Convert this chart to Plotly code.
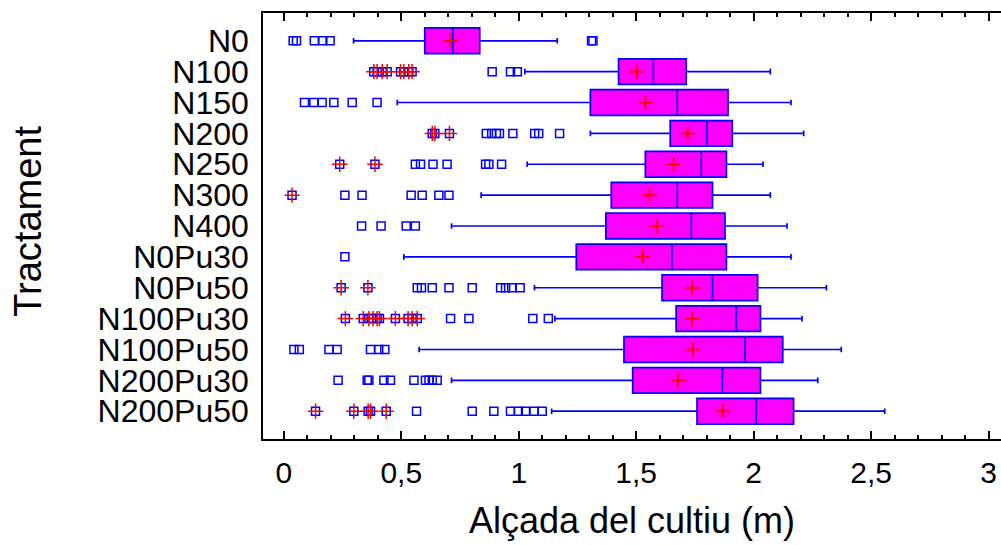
import plotly.graph_objects as go

# Treatments (top to bottom)
categories = ["N0", "N100", "N150", "N200", "N250", "N300", "N400",
              "N0Pu30", "N0Pu50", "N100Pu30", "N100Pu50", "N200Pu30", "N200Pu50"]

# Box statistics of crop height (m)
q1 = [0.600, 1.425, 1.305, 1.645, 1.539, 1.394, 1.371, 1.245, 1.610, 1.670, 1.448, 1.485, 1.759]
median = [0.719, 1.573, 1.675, 1.801, 1.777, 1.675, 1.735, 1.652, 1.825, 1.926, 1.963, 1.867, 2.011]
q3 = [0.834, 1.713, 1.891, 1.909, 1.884, 1.825, 1.878, 1.884, 2.017, 2.029, 2.124, 2.029, 2.170]
whisker_lo = [0.297, 1.026, 0.483, 1.305, 1.036, 0.840, 0.714, 0.511, 1.067, 1.154, 0.576, 0.714, 1.140]
whisker_hi = [1.164, 2.071, 2.159, 2.213, 2.040, 2.071, 2.142, 2.159, 2.310, 2.206, 2.373, 2.273, 2.558]
means = [0.708, 1.503, 1.540, 1.719, 1.659, 1.557, 1.589, 1.527, 1.738, 1.738, 1.742, 1.678, 1.868]

# Outlying observations per treatment
out_N0 = [0.040, 0.054, 0.130, 0.166, 0.197, 1.310, 1.316]
out_N100 = [0.383, 0.397, 0.419, 0.440, 0.497, 0.511, 0.532, 0.546, 0.887, 0.965, 0.994]
out_N150 = [0.088, 0.128, 0.163, 0.213, 0.291, 0.397]
out_N200 = [0.632, 0.643, 0.705, 0.862, 0.885, 0.905, 0.918, 0.975, 1.068, 1.085, 1.174]
out_N250 = [0.238, 0.388, 0.560, 0.582, 0.635, 0.695, 0.859, 0.873, 0.927]
out_N300 = [0.035, 0.260, 0.333, 0.542, 0.589, 0.660, 0.703]
out_N400 = [0.331, 0.414, 0.521, 0.560]
out_N0Pu30 = [0.260]
out_N0Pu50 = [0.244, 0.358, 0.568, 0.586, 0.632, 0.703, 0.802, 0.923, 0.944, 0.970, 1.006]
out_N100Pu30 = [0.262, 0.338, 0.362, 0.380, 0.397, 0.407, 0.475, 0.529, 0.546, 0.568,
                0.710, 0.788, 1.060, 1.126]
out_N100Pu50 = [0.043, 0.066, 0.192, 0.227, 0.369, 0.404, 0.430]
out_N200Pu30 = [0.231, 0.355, 0.362, 0.426, 0.454, 0.554, 0.603, 0.618, 0.632, 0.653]
out_N200Pu50 = [0.135, 0.298, 0.359, 0.369, 0.436, 0.565, 0.802, 0.894, 0.965, 0.998,
                1.029, 1.065, 1.100]

outliers = [out_N0, out_N100, out_N150, out_N200, out_N250, out_N300, out_N400,
            out_N0Pu30, out_N0Pu50, out_N100Pu30, out_N100Pu50, out_N200Pu30, out_N200Pu50]

x_ticks = [0, 0.5, 1, 1.5, 2, 2.5, 3]
x_tick_text = ["0", "0,5", "1", "1,5", "2", "2,5", "3"]

BLUE = "#0000FF"
MAGENTA = "#FF00FF"
RED = "#FF0000"
FONT = "Liberation Sans, Arial, sans-serif"

# Split outliers: far outside points (beyond 3 IQR) get an extra red cross
ox, oy, fx, fy = [], [], [], []
for cat, vals, a, b in zip(categories, outliers, q1, q3):
    iqr = b - a
    for v in vals:
        ox.append(v)
        oy.append(cat)
        if v < a - 3 * iqr or v > b + 3 * iqr:
            fx.append(v)
            fy.append(cat)

fig = go.Figure()

fig.add_trace(go.Box(
    y=categories, q1=q1, median=median, q3=q3,
    lowerfence=whisker_lo, upperfence=whisker_hi,
    orientation="h", boxpoints=False, width=0.83, whiskerwidth=0.22,
    fillcolor=MAGENTA, line=dict(color=BLUE, width=1.7),
    hoverinfo="skip",
))

fig.add_trace(go.Scatter(
    x=ox, y=oy, mode="markers",
    marker=dict(symbol="square-open", size=8, color=BLUE, line=dict(width=1.5, color=BLUE)),
))

fig.add_trace(go.Scatter(
    x=fx, y=fy, mode="markers",
    marker=dict(symbol="cross-thin-open", size=11, color=RED, line=dict(width=1.5, color=RED)),
))

fig.add_trace(go.Scatter(
    x=means, y=categories, mode="markers",
    marker=dict(symbol="cross-thin-open", size=10, color=RED, line=dict(width=2, color=RED)),
))

fig.update_layout(
    width=1001, height=545,
    margin=dict(l=263, r=0, t=13, b=106),
    paper_bgcolor="white", plot_bgcolor="white",
    showlegend=False,
    font=dict(family=FONT, color="black"),
    xaxis=dict(
        range=[-0.0886, 3.053],
        tickvals=x_ticks, ticktext=x_tick_text,
        ticks="inside", ticklen=8, tickwidth=1.5, tickcolor="black",
        minor=dict(dtick=0.1, tick0=0, ticks="inside", ticklen=4, tickwidth=1.5, tickcolor="black"),
        showline=True, linewidth=2, linecolor="black", mirror="ticks",
        showgrid=False, zeroline=False,
        tickfont=dict(size=30), ticklabelstandoff=6,
        title=dict(text="Alçada del cultiu (m)", font=dict(size=36), standoff=20),
    ),
    yaxis=dict(
        type="category", categoryorder="array", categoryarray=categories,
        tickmode="array", tickvals=categories, ticktext=categories,
        range=[12.9, -0.9],
        showline=True, linewidth=1.5, linecolor="black",
        ticks="", showgrid=False, zeroline=False,
        tickfont=dict(size=32), ticklabelstandoff=6,
    ),
    annotations=[dict(
        text="Tractament", textangle=-90, showarrow=False,
        xref="paper", yref="paper", x=-0.3184, y=0.51,
        xanchor="center", yanchor="middle",
        font=dict(size=38, family=FONT, color="black"),
    )],
)

fig.write_html("out.html")
